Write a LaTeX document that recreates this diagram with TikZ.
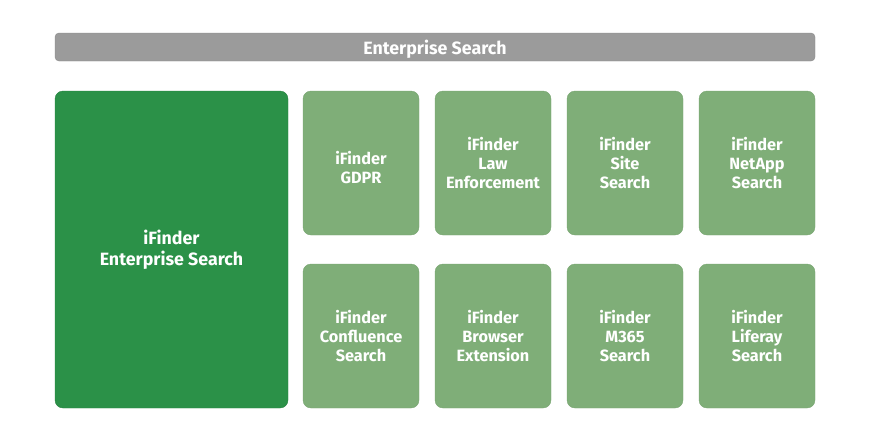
\documentclass[tikz,border=0pt]{standalone}
\usepackage{fontspec}
\setmainfont{Fira Sans}
\usepackage{tikz}
\usetikzlibrary{positioning}
\definecolor{bargray}{HTML}{9B9B9B}
\definecolor{darkgreen}{HTML}{2B9148}
\definecolor{lightgreen}{HTML}{7FAE78}
\tikzset{
    bar/.style={
    rectangle,rounded corners=4pt,draw=bargray!90!black,fill=bargray,text=white,text depth=0pt,
    font=\fontsize{17.8}{21}\selectfont\bfseries,minimum width=760pt,minimum height=28pt,inner sep=0pt
    },
    mainbox/.style={
    rectangle,rounded corners=8pt,draw=darkgreen!90!black,fill=darkgreen,text=white,align=center,
    font=\fontsize{17.8}{21}\selectfont\bfseries,minimum width=233pt,minimum height=317pt,inner sep=0pt
    },
    subbox/.style={
    rectangle,rounded corners=8pt,draw=lightgreen!95!black,fill=lightgreen,text=white,align=center,
    font=\fontsize{16.3}{19.3}\selectfont\bfseries,minimum width=116pt,minimum height=144pt,inner sep=0pt
    },
}
\begin{document}
\begin{tikzpicture}[x=1pt, y=-1pt]
   \useasboundingbox (0,0) rectangle (870,440);

   %top
   \node[bar] (es) at (435,47) {Enterprise Search};
   \node[mainbox] (ifes) at (171.5,249.5) {iFinder\\Enterprise Search};

   %first row
   \node[subbox] (gdpr) at (361,163) {\rule{0pt}{22pt}iFinder\\GDPR};
   \node[subbox] (law) at (493,163) {iFinder\\Law\\Enforcement};
   \node[subbox] (site) at (625,163) {iFinder\\Site\\Search};
   \node[subbox] (netapp) at (757,163) {iFinder\\NetApp\\Search};

   %second row
   \node[subbox] (confl) at (361,336) {iFinder\\Confluence\\Search};
   \node[subbox] (browser) at (493,336) {iFinder\\Browser\\Extension};
   \node[subbox] (m365) at (625,336) {iFinder\\M365\\Search};
   \node[subbox] (liferay) at (757,336) {iFinder\\Liferay\\Search};
\end{tikzpicture}
\end{document}
